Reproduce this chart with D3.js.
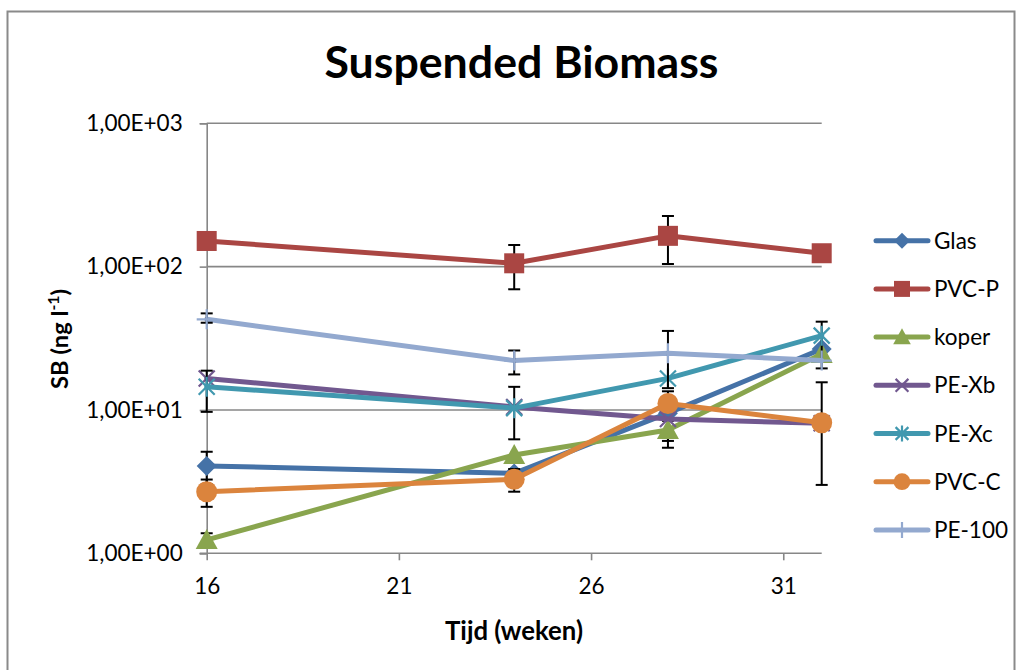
<!DOCTYPE html>
<html>
<head>
<meta charset="utf-8">
<script src="https://cdn.jsdelivr.net/npm/d3@7"></script>
<style>
  html, body { margin: 0; padding: 0; background: #fff; }
  svg { display: block; }
  text { font-family: Lato, "Open Sans", "Liberation Sans", sans-serif; fill: #000; }
</style>
</head>
<body>
<svg id="chart" width="1022" height="670"></svg>
<script>
// ---- data ----
const weeks = [16, 24, 28, 32];
const seriesNames = ["Glas", "PVC-P", "koper", "PE-Xb", "PE-Xc", "PVC-C", "PE-100"];
const seriesColors = ["#4572A7", "#AA4643", "#89A54E", "#71588F", "#4198AF", "#DB843D", "#93A9CF"];
const seriesMarkers = ["diamond", "square", "triangle", "x", "star", "circle", "plus"];

const glas   = [4.07, 3.61, 9.5, 26.6];
const pvcP   = [151, 105.5, 164, 124];
const koper  = [1.24, 4.85, 7.25, 24.6];
const peXb   = [16.6, 10.5, 8.65, 8.07];
const peXc   = [14.5, 10.3, 16.6, 33.0];
const pvcC   = [2.69, 3.28, 11.1, 8.15];
const pe100  = [42.9, 22.1, 24.9, 22.1];

// error bars: [low, high] per week (null = none)
const glasErr  = [[3.03, 5.11], null, [5.45, 13.5], null];
const pvcPErr  = [null, [69.5, 141.6], [104.3, 225.6], null];
const koperErr = [[1.10, 1.38], null, [6.08, 8.4], null];
const peXbErr  = [null, null, null, null];
const peXcErr  = [[9.7, 18.8], [6.24, 14.5], null, [19.5, 41.3]];
const pvcCErr  = [[2.11, 3.27], [2.69, 3.87], null, [3.0, 15.6]];
const pe100Err = [[40.6, 47.2], [17.7, 26.0], [14.2, 35.6], null];

const yTicks = [1, 10, 100, 1000];
const yTickLabels = ["1,00E+00", "1,00E+01", "1,00E+02", "1,00E+03"];
const xTicks = [16, 21, 26, 31];

const titleText = "Suspended Biomass";
const xLabelText = "Tijd (weken)";

const seriesValues = [glas, pvcP, koper, peXb, peXc, pvcC, pe100];
const seriesErrors = [glasErr, pvcPErr, koperErr, peXbErr, peXcErr, pvcCErr, pe100Err];

// ---- layout ----
const svg = d3.select("#chart");
const x = d3.scaleLinear().domain([16, 32]).range([206.7, 821.7]);
const y = d3.scaleLog().domain([1, 1000]).range([553.3, 123.3]);
const gridColor = "#878787";

// outer border
svg.append("rect").attr("x", 7.5).attr("y", 11.5).attr("width", 1007).attr("height", 670)
  .attr("fill", "#fff").attr("stroke", "#8a8a8a").attr("stroke-width", 2);

// gridlines
svg.append("g").selectAll("line").data(yTicks.slice(1)).join("line")
  .attr("x1", x(16)).attr("x2", x(32))
  .attr("y1", d => y(d)).attr("y2", d => y(d))
  .attr("stroke", gridColor).attr("stroke-width", 1.6);

// y axis
const yAxis = svg.append("g").attr("transform", `translate(${x(16)},0)`)
  .call(d3.axisLeft(y).tickValues(yTicks).tickSize(7).tickPadding(17)
    .tickFormat((d, i) => yTickLabels[yTicks.indexOf(d)]));
yAxis.select(".domain").attr("stroke", gridColor).attr("stroke-width", 1.6);
yAxis.selectAll(".tick line").attr("stroke", gridColor).attr("stroke-width", 1.6);
yAxis.selectAll(".tick text").attr("font-size", 22.5).attr("font-family", "Lato, sans-serif");

// x axis
const xAxis = svg.append("g").attr("transform", `translate(0,${y(1)})`)
  .call(d3.axisBottom(x).tickValues(xTicks).tickSize(7).tickPadding(18).tickFormat(d3.format("d")));
xAxis.select(".domain").attr("stroke", gridColor).attr("stroke-width", 1.6)
  .attr("d", `M${x(16) - 7},0H${x(32)}`);
xAxis.selectAll(".tick line").attr("stroke", gridColor).attr("stroke-width", 1.6);
xAxis.selectAll(".tick text").attr("font-size", 22.5).attr("font-family", "Lato, sans-serif");

// marker drawing
function drawMarker(g, type, color, s) {
  const k = s;
  if (type === "diamond") {
    g.append("path").attr("d", `M0,${-10*k}L${10*k},0L0,${10*k}L${-10*k},0Z`).attr("fill", color);
  } else if (type === "square") {
    g.append("rect").attr("x", -10*k).attr("y", -10*k).attr("width", 20*k).attr("height", 20*k).attr("fill", color);
  } else if (type === "triangle") {
    g.append("path").attr("d", `M0,${-11*k}L${11*k},${9*k}L${-11*k},${9*k}Z`).attr("fill", color);
  } else if (type === "circle") {
    g.append("circle").attr("r", 10.5*k).attr("fill", color);
  } else if (type === "x") {
    g.append("path").attr("d", `M${-8*k},${-8*k}L${8*k},${8*k}M${8*k},${-8*k}L${-8*k},${8*k}`)
      .attr("stroke", color).attr("stroke-width", 2.2).attr("fill", "none");
  } else if (type === "star") {
    g.append("path").attr("d", `M${-8*k},${-8*k}L${8*k},${8*k}M${8*k},${-8*k}L${-8*k},${8*k}M0,${-10*k}L0,${10*k}`)
      .attr("stroke", color).attr("stroke-width", 2.2).attr("fill", "none");
  } else if (type === "plus") {
    g.append("path").attr("d", `M${-10*k},0L${10*k},0M0,${-10*k}L0,${10*k}`)
      .attr("stroke", color).attr("stroke-width", 2.2).attr("fill", "none");
  }
}

const line = d3.line().x(d => x(d[0])).y(d => y(d[1]));

seriesNames.forEach((name, si) => {
  const g = svg.append("g").attr("class", "series");
  const vals = seriesValues[si];
  const pts = weeks.map((w, i) => [w, vals[i]]);
  g.append("path").attr("d", line(pts)).attr("fill", "none")
    .attr("stroke", seriesColors[si]).attr("stroke-width", 5)
    .attr("stroke-linejoin", "round").attr("stroke-linecap", "round");
  // error bars
  seriesErrors[si].forEach((e, i) => {
    if (!e) return;
    const cx = x(weeks[i]);
    const eg = g.append("g").attr("stroke", "#000").attr("stroke-width", 2);
    eg.append("line").attr("x1", cx).attr("x2", cx).attr("y1", y(e[0])).attr("y2", y(e[1]));
    eg.append("line").attr("x1", cx - 6).attr("x2", cx + 6).attr("y1", y(e[0])).attr("y2", y(e[0]));
    eg.append("line").attr("x1", cx - 6).attr("x2", cx + 6).attr("y1", y(e[1])).attr("y2", y(e[1]));
  });
  pts.forEach(p => {
    const mg = g.append("g").attr("transform", `translate(${x(p[0])},${y(p[1])})`);
    drawMarker(mg, seriesMarkers[si], seriesColors[si], 1);
  });
});

// legend
const legend = svg.append("g");
seriesNames.forEach((name, si) => {
  const ly = 240.7 + si * 48.2;
  const lg = legend.append("g");
  lg.append("line").attr("x1", 876).attr("x2", 928).attr("y1", ly).attr("y2", ly)
    .attr("stroke", seriesColors[si]).attr("stroke-width", 5).attr("stroke-linecap", "round");
  const mg = lg.append("g").attr("transform", `translate(902,${ly})`);
  drawMarker(mg, seriesMarkers[si], seriesColors[si], 0.8);
  lg.append("text").attr("x", 934).attr("y", ly + 8).attr("font-size", 22.5).text(name);
});

// title
const title = svg.append("text").attr("x", 521.5).attr("y", 78).attr("text-anchor", "middle")
  .attr("font-weight", "bold").attr("font-size", 38).text(titleText);
// y label
const yl = svg.append("text").attr("transform", "translate(68,339) rotate(-90)")
  .attr("text-anchor", "middle").attr("font-weight", "bold").attr("font-size", 21);
yl.append("tspan").text("SB (ng l");
yl.append("tspan").attr("baseline-shift", "super").attr("font-size", 14).text("-1");
yl.append("tspan").text(")");
// x label
const xl = svg.append("text").attr("x", 514).attr("y", 640).attr("text-anchor", "middle")
  .attr("font-weight", "bold").attr("font-size", 22).text(xLabelText);

// fit text widths to reference
function fit(sel, target) {
  const w = sel.node().getComputedTextLength();
  const fs = parseFloat(sel.attr("font-size"));
  const f = target / w;
  sel.attr("font-size", (fs * f).toFixed(2));
  sel.selectAll("tspan").each(function () {
    const t = d3.select(this);
    if (t.attr("font-size")) t.attr("font-size", (parseFloat(t.attr("font-size")) * f).toFixed(2));
  });
}
fit(title, 394);
fit(xl, 138);
fit(yl, 100);
</script>
</body>
</html>
